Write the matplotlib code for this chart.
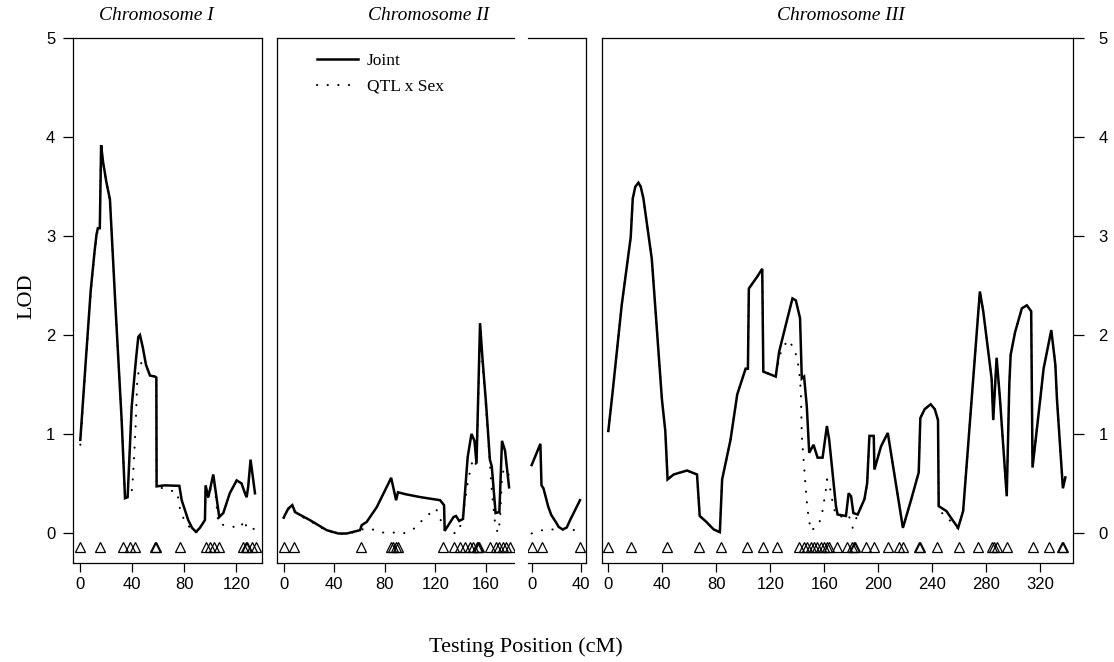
import matplotlib
matplotlib.use('Agg')
import matplotlib.pyplot as plt
from matplotlib.lines import Line2D

# ---- data ----
# Chromosome I
joint1_pos = [0, 4, 8, 11, 12.5, 13.5, 15, 15.5, 16, 17.5, 20, 22.8, 27, 31.8, 34.4, 36.4,
              39.5, 42.8, 44.6, 45.9, 48, 50.5, 53.6, 57.4, 58.5, 58.7, 65, 76.2, 78, 83, 86,
              89, 92, 95.9, 96.4, 98.5, 102.3, 103.6, 106.9, 110, 115, 120.3, 124, 126.7, 128,
              129.2, 131, 134.4]
joint1 = [0.94, 1.7, 2.45, 2.85, 3.02, 3.08, 3.08, 3.5, 3.92, 3.75, 3.55, 3.37, 2.3, 1.14, 0.35,
          0.36, 1.27, 1.75, 1.98, 2.0, 1.88, 1.70, 1.59, 1.58, 1.57, 0.47, 0.48, 0.475, 0.33, 0.13,
          0.05, 0.01, 0.05, 0.13, 0.48, 0.36, 0.59, 0.47, 0.16, 0.2, 0.4, 0.53, 0.5, 0.4, 0.36,
          0.47, 0.74, 0.4]
sex1_pos = [0, 4, 8, 11, 12.5, 13.5, 15, 15.5, 16, 17.5, 20, 22.8, 27, 31.8, 34.4, 36.4, 39.5,
            40.3, 41.3, 42.6, 43.8, 45.1, 47, 50.5, 53.6, 57.4, 58.5, 58.7, 65.9, 74.6, 77.2,
            82.3, 89, 95.9, 96.4, 98.5, 102.3, 103.6, 106.2, 113.8, 122.8, 126.7, 128, 134.4]
sex1 = [0.89, 1.68, 2.43, 2.84, 3.0, 3.06, 3.07, 3.5, 3.9, 3.74, 3.55, 3.35, 2.3, 1.14, 0.38,
        0.38, 0.41, 0.53, 0.75, 1.09, 1.54, 1.65, 1.72, 1.70, 1.59, 1.58, 1.57, 0.47, 0.44, 0.41,
        0.2, 0.08, 0.0, 0.12, 0.44, 0.35, 0.56, 0.45, 0.09, 0.07, 0.05, 0.13, 0.04, 0.04]
markers1 = [0, 15.2, 33.1, 38.2, 42.1, 57.2, 58.2, 77, 96.4, 99.8, 103.1, 106.9, 125.4, 127.5,
            128.5, 131.8, 135.2]

# Chromosome II (first segment)
joint2_pos = [0, 3.6, 6.8, 9, 10.3, 20.8, 34, 43.3, 49.9, 60.4, 61.8, 65.7, 73.7, 81.6, 85.1,
              89, 90.5, 96.6, 108.7, 123.8, 127, 127.5, 134.5, 136.5, 139, 142, 145.7, 148.7,
              151.1, 152.7, 155.5, 157.5, 160.3, 163.3, 164.8, 167.8, 170.8, 172.9, 175.3, 178.5]
joint2 = [0.155, 0.246, 0.28, 0.21, 0.2, 0.128, 0.027, -0.007, -0.007, 0.027, 0.078, 0.11, 0.26,
          0.465, 0.556, 0.33, 0.41, 0.39, 0.36, 0.33, 0.28, 0.02, 0.16, 0.17, 0.12, 0.14, 0.765,
          1.0, 0.93, 0.7, 2.12, 1.75, 1.3, 0.74, 0.67, 0.2, 0.21, 0.93, 0.83, 0.46]
sex2_pos = [0, 3.6, 6.8, 9, 10.3, 20.8, 34, 43.3, 49.9, 60.4, 63, 69.7, 78.4, 86.8, 94.7, 103.4,
            111.9, 120.6, 127.8, 137, 141, 145.7, 148, 150, 152.7, 155.5, 157.5, 160.3, 163.3,
            165, 167.4, 169.5, 171.3, 173, 175.3, 178.5]
sex2 = [0.15, 0.24, 0.27, 0.2, 0.19, 0.12, 0.02, -0.01, -0.01, 0.02, 0.04, 0.037, 0.003, 0.003,
        -0.007, 0.044, 0.155, 0.246, 0.02, -0.007, 0.1, 0.5, 0.65, 0.75, 0.68, 2.0, 1.7, 1.25,
        0.7, 0.4, 0.095, 0.0, 0.12, 0.6, 0.65, 0.58]
markers2 = [0, 8.4, 61.2, 85, 86.8, 88.7, 90.5, 126.4, 134.9, 139.6, 143.6, 147.6, 150.2, 153,
            154, 155, 163, 168.2, 170.8, 173.5, 176.1, 179.2]

# Chromosome II (second segment)
joint3_pos = [0, 7.1, 8, 9.6, 13.6, 16, 20.4, 22, 25.3, 28.6, 31, 35, 39.4]
joint3 = [0.685, 0.90, 0.48, 0.45, 0.26, 0.18, 0.095, 0.06, 0.034, 0.054, 0.12, 0.22, 0.33]
sex3_pos = [0, 8.7, 17.1, 25.3, 36.2]
sex3 = [-0.006, 0.027, 0.034, 0.034, 0.027]
markers3 = [0, 8.7, 39.4]

# Chromosome III
joint4_pos = [0, 3, 9.9, 16.6, 18.1, 20, 22.3, 24, 26, 32.2, 39.7, 42.2, 43.9, 48.4, 58.3,
              65.7, 67.7, 71.9, 78.1, 82.6, 84.3, 90.5, 95.5, 101.7, 103.4, 104.1, 110.3, 114,
              114.8, 124, 126.5, 132.7, 136.4, 138.9, 142, 143.3, 145, 147, 148.8, 152, 155,
              158.7, 161.9, 163.6, 168.6, 169.8, 176, 178, 179.8, 181.5, 184.7, 189.7, 191.7,
              193.4, 196.6, 197.1, 202, 207, 218.2, 224.4, 229.9, 231.1, 234.3, 238.8, 241.8,
              244.2, 244.7, 250.4, 255.4, 259.1, 262.8, 275.2, 277.7, 283.9, 285.1, 287.6,
              290.1, 295.1, 297, 298, 301.3, 306.3, 310, 313.2, 314.2, 319.9, 322.4, 328.1,
              331.1, 332.3, 336.7, 338.5]
joint4 = [1.03, 1.4, 2.3, 2.99, 3.38, 3.5, 3.54, 3.5, 3.38, 2.77, 1.35, 1.03, 0.54, 0.59, 0.63,
          0.59, 0.17, 0.12, 0.034, 0.007, 0.54, 0.94, 1.4, 1.66, 1.66, 2.47, 2.59, 2.67, 1.63,
          1.58, 1.83, 2.17, 2.37, 2.35, 2.17, 1.56, 1.58, 1.28, 0.81, 0.89, 0.76, 0.76, 1.08,
          0.94, 0.27, 0.185, 0.17, 0.40, 0.37, 0.2, 0.185, 0.34, 0.5, 0.98, 0.98, 0.64, 0.875,
          1.01, 0.05, 0.34, 0.61, 1.16, 1.25, 1.30, 1.25, 1.14, 0.27, 0.22, 0.12, 0.05, 0.22,
          2.44, 2.24, 1.56, 1.14, 1.77, 1.35, 0.37, 1.5, 1.8, 2.03, 2.27, 2.30, 2.24, 0.66,
          1.35, 1.66, 2.05, 1.7, 1.35, 0.45, 0.56]
sex4_pos = [0, 3, 9.9, 16.6, 18.1, 20, 22.3, 24, 26, 32.2, 39.7, 42.2, 43.9, 48.4, 58.3, 65.7,
            67.7, 71.9, 78.1, 82.6, 84.3, 90.5, 95.5, 101.7, 103.4, 104.1, 110.3, 114, 114.8,
            124, 127, 132.7, 137.6, 139.6, 141.3, 142.6, 143.3, 145, 146.3, 147.5, 148.8, 150,
            155.7, 158.2, 161.2, 162, 163.6, 166.9, 169.4, 176, 178, 181, 184.7, 189.7, 191.7,
            193.4, 196.6, 197.1, 202, 207, 218.2, 224.4, 229.9, 231.1, 234.3, 238.8, 241.8,
            244.2, 244.7, 250.4, 255.4, 259.1, 262.8, 275.2, 277.7, 283.9, 285.1, 287.6, 290.1,
            295.1, 297, 298, 301.3, 306.3, 310, 313.2, 314.2, 319.9, 322.4, 328.1, 331.1,
            332.3, 336.7, 338.5]
sex4 = [1.03, 1.4, 2.3, 2.99, 3.38, 3.5, 3.54, 3.5, 3.38, 2.77, 1.35, 1.03, 0.54, 0.59, 0.63,
        0.59, 0.17, 0.12, 0.034, 0.007, 0.54, 0.94, 1.4, 1.66, 1.66, 2.47, 2.59, 2.67, 1.63,
        1.58, 1.8, 1.95, 1.87, 1.77, 1.65, 1.43, 0.98, 0.67, 0.44, 0.24, 0.12, 0.02, 0.08,
        0.185, 0.44, 0.54, 0.5, 0.25, 0.17, 0.16, 0.18, 0.05, 0.185, 0.34, 0.5, 0.98, 0.98,
        0.64, 0.875, 1.01, 0.05, 0.34, 0.61, 1.16, 1.25, 1.30, 1.25, 1.14, 0.24, 0.15, 0.1,
        0.04, 0.22, 2.44, 2.24, 1.56, 1.14, 1.77, 1.35, 0.37, 1.5, 1.8, 2.03, 2.27, 2.30, 2.24,
        0.66, 1.35, 1.66, 2.05, 1.7, 1.35, 0.45, 0.56]
markers4 = [0, 16.6, 43.4, 66.9, 83.1, 102.4, 114.8, 124.7, 141.3, 145, 147.5, 150, 152.5, 154.9,
            157.4, 159.9, 161.9, 163.6, 169.4, 176.8, 180.3, 181.7, 182.5, 191.2, 197.1, 207,
            215, 218.2, 230.2, 231, 243.5, 260.1, 273.5, 283.9, 285.9, 287.6, 295.1, 314.2,
            326.1, 336.3, 337]

titles = ['Chromosome I', 'Chromosome II', 'Chromosome III']
lod_ticks = [0, 1, 2, 3, 4, 5]

# ---- figure ----
W, H = 1114, 662
fig = plt.figure(figsize=(W / 100, H / 100), dpi=100)

sans = 'Liberation Sans'
serif = 'Liberation Serif'
top_px, bot_px = 38.3, 562.5


def add_panel(x0, x1, xlim, xticks):
    ax = fig.add_axes([x0 / W, (H - bot_px) / H, (x1 - x0) / W, (bot_px - top_px) / H])
    ax.set_xlim(*xlim)
    ax.set_ylim(-0.3, 5)
    ax.set_xticks(xticks)
    ax.tick_params(axis='x', direction='out', length=6.5, width=0.9, pad=4,
                   labelsize=12)
    for lab in ax.get_xticklabels():
        lab.set_fontfamily(sans)
    ax.set_yticks([])
    for s in ax.spines.values():
        s.set_linewidth(0.9)
    return ax


def draw(ax, jpos, jval, spos, sval, marks):
    ax.plot(spos, sval, color='black', lw=1.5, linestyle=(0, (0.1, 5)),
            dash_capstyle='round')
    ax.plot(jpos, jval, color='black', lw=1.8, solid_joinstyle='miter')
    ax.plot(marks, [-0.145] * len(marks), linestyle='none', marker='^', ms=7.5,
            mfc='none', mec='black', mew=0.9)


ax1 = add_panel(73.3, 262, (-5.4, 139.8), [0, 40, 80, 120])
ax2 = add_panel(277.3, 514, (-5.1, 182.4), [0, 40, 80, 120, 160])
ax3 = add_panel(528, 586, (-3.0, 44.3), [0, 40])
ax4 = add_panel(601.7, 1073.3, (-4.9, 344.4), [0, 40, 80, 120, 160, 200, 240, 280, 320])

draw(ax1, joint1_pos, joint1, sex1_pos, sex1, markers1)
draw(ax2, joint2_pos, joint2, sex2_pos, sex2, markers2)
draw(ax3, joint3_pos, joint3, sex3_pos, sex3, markers3)
draw(ax4, joint4_pos, joint4, sex4_pos, sex4, markers4)

# chromosome II split into two pieces sharing one box
ax2.spines['right'].set_visible(False)
ax3.spines['left'].set_visible(False)

# LOD axes on outer sides
ax1.set_yticks(lod_ticks)
ax1.tick_params(axis='y', direction='out', length=7, width=0.9, pad=6, labelsize=12)
for lab in ax1.get_yticklabels():
    lab.set_fontfamily(sans)
ax4.yaxis.tick_right()
ax4.set_yticks(lod_ticks)
ax4.tick_params(axis='y', direction='out', length=8, width=0.9, pad=10, labelsize=12)
for lab in ax4.get_yticklabels():
    lab.set_fontfamily(sans)

# titles
for x, t in zip([156, 429, 841], titles):
    fig.text(x / W, 1 - 16 / H, t, ha='center', va='center', fontsize=14,
             fontfamily=serif, fontstyle='italic')

fig.text(27 / W, 1 - 296 / H, 'LOD', rotation=90, ha='center', va='center',
         fontsize=16, fontfamily=serif)
fig.text(525.7 / W, 1 - 647 / H, 'Testing Position (cM)', ha='center', va='center',
         fontsize=16, fontfamily=serif)

# legend
handles = [Line2D([], [], color='black', lw=1.8),
           Line2D([], [], color='black', lw=1.5, linestyle=(0, (0.1, 5)), dash_capstyle='round')]
leg = ax2.legend(handles, ['Joint', 'QTL x Sex'], loc='upper left',
                 bbox_to_anchor=(316.7 / W, 1 - 53 / H), bbox_transform=fig.transFigure,
                 frameon=False, borderpad=0, borderaxespad=0, handlelength=2.4,
                 handletextpad=0.5, labelspacing=0.55, prop={'family': serif, 'size': 12.5})

fig.savefig('out.png', dpi=100)
